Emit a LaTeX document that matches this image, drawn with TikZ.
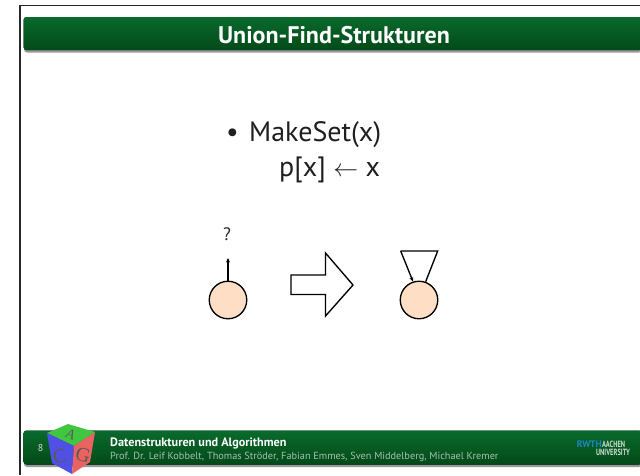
\documentclass[tikz,border=0pt]{standalone}
\usepackage{fontspec}
\setmainfont{PT Sans}
\newfontfamily\cubefont{Liberation Serif}
\usetikzlibrary{arrows.meta}
\definecolor{gtop}{HTML}{0A6A2C}
\definecolor{gbot}{HTML}{024A18}
\definecolor{nodefill}{HTML}{FEDFC6}
\definecolor{rwthblue}{HTML}{1B86C8}
\tikzset{
  bar/.style={rounded corners=3pt,top color=gtop,bottom color=gbot,draw=none},
  barshadow/.style={rounded corners=3pt,fill=black!40,draw=none},
  dot/.style={circle,draw=black,line width=1.35pt,fill=nodefill,minimum size=37.5pt,inner sep=0pt},
  conn/.style={line width=1.35pt,-{Stealth[length=4.5pt,width=4pt]}},
  big/.style={line width=1.35pt,draw=black,fill=white,line join=miter},
  bodytext/.style={anchor=base west,inner sep=0pt,font=\fontsize{28}{30}\selectfont,text=black!88},
}
\begin{document}
\begin{tikzpicture}[x=1pt,y=-1pt]
\useasboundingbox (0,0) rectangle (640,475);
\fill[white] (0,0) rectangle (640,475);
% frame
\draw[line width=1.4pt,black!85] (20,475) -- (20,5.3) -- (640,5.3);
% title bar
\fill[barshadow] (24,19) rectangle (642,52.5);
\fill[bar] (23.5,17) rectangle (642,50);
\node[text=white,font=\bfseries\fontsize{24}{26}\selectfont] (title) at (334,35) {Union-Find-Strukturen};
% body text
\node[bodytext] (bul) at (226,141) {•};
\node[bodytext] (l1) at (249,141) {MakeSet(x)};
\node[bodytext] (l2) at (279,176) {p[x] {\fontsize{26}{26}\selectfont$\leftarrow$} x};
% left node
\node[dot] (a) at (228,300) {};
\node[font=\fontsize{18}{20}\selectfont,text=black!85] (q) at (227,234.5) {?};
\coordinate (atop) at (228,258);
\draw[conn] (a.north) -- (atop);
% big arrow
\draw[big] (291,275) -- (325.5,275) -- (325.5,253) -- (353,285) -- (325.5,316) -- (325.5,294.5) -- (291,294.5) -- cycle;
% right node
\node[dot] (b) at (419,300) {};
\coordinate (tl) at (400.7,251);
\coordinate (tr) at (437.7,251);
\draw[line width=1.35pt,line join=miter] (b.70) -- (tr) -- (tl);
\draw[conn] (tl) -- (b.108);
% footer bar
\fill[barshadow] (24,433) rectangle (642,467);
\fill[bar] (23.5,430.5) rectangle (642,464.5);
\node[text=white!85!black,font=\fontsize{10}{11}\selectfont] (pg) at (40.5,448) {8};
% cube
\coordinate (ct) at (68,424);
\coordinate (cl) at (47,433);
\coordinate (cr) at (95,432);
\coordinate (cc) at (74,446);
\coordinate (bl) at (52,463);
\coordinate (br) at (90,462);
\coordinate (cb) at (72,474);
\fill[green!70!black!75!white] (ct) -- (cr) -- (cc) -- (cl) -- cycle;
\fill[blue!65!white!90!black] (cl) -- (cc) -- (cb) -- (bl) -- cycle;
\fill[red!58!white!92!black] (cc) -- (cr) -- (br) -- (cb) -- cycle;
\node[inner sep=0pt,font=\cubefont\fontsize{14}{14}\selectfont,text=black!65,rotate=-25] (ca) at (71,434.5) {A};
\node[inner sep=0pt,font=\cubefont\fontsize{20}{20}\selectfont,text=black!65,rotate=15] (cC) at (60,456) {C};
\node[inner sep=0pt,font=\cubefont\fontsize{20}{20}\selectfont,text=black!65,rotate=-15] (cG) at (83,455) {G};
% footer text
\node[anchor=base west,inner sep=0pt,text=white,font=\bfseries\fontsize{12.2}{13}\selectfont] (ft1) at (110,446) {Datenstrukturen und Algorithmen};
\node[anchor=base west,inner sep=0pt,text=white!65!gbot,font=\fontsize{10.3}{12}\selectfont] (ft2) at (110,459) {Prof. Dr. Leif Kobbelt, Thomas Ströder, Fabian Emmes, Sven Middelberg, Michael Kremer};
% logo
\node[anchor=east,text=rwthblue,font=\bfseries\fontsize{9.5}{9.5}\selectfont,inner sep=0pt] (rw) at (602,444.5) {RWTH};
\node[anchor=west,text=white!80!gbot,font=\bfseries\fontsize{9}{9}\selectfont,inner sep=0pt,xscale=.72] (aa) at (602,444.5) {AACHEN};
\node[anchor=east,text=white!80!gbot,font=\bfseries\fontsize{9}{9}\selectfont,inner sep=0pt,xscale=.72] (un) at (630,452.5) {UNIVERSITY};
\end{tikzpicture}
\end{document}
